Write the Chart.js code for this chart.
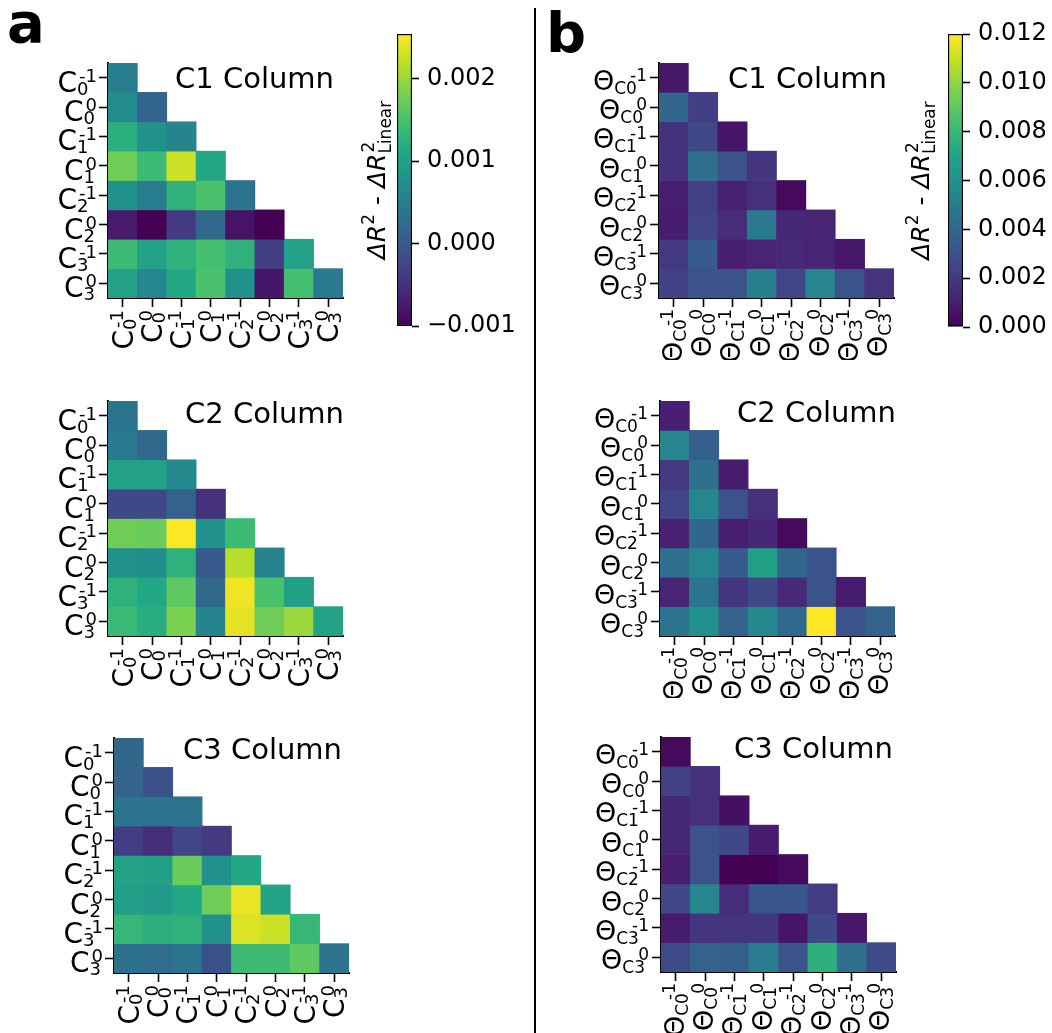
<!DOCTYPE html>
<html>
<head>
<meta charset="utf-8">
<script src="https://cdn.jsdelivr.net/npm/chart.js@4.4.1/dist/chart.umd.min.js"></script>
<style>
  body { margin: 0; background: #fff; }
  #page { position: relative; width: 1052px; height: 1033px; overflow: hidden; background: #fff; }
  canvas { position: absolute; }
  .letter { position: absolute; font: bold 56px 'DejaVu Sans'; line-height: 56px; color: #000; }
  #divider { position: absolute; left: 534px; top: 8px; width: 1.5px; height: 1030px; background: #000; }
</style>
</head>
<body>
<div id="page">
  <div class="letter" style="left:7px; top:-5px;">a</div>
  <div class="letter" style="left:546px; top:5px;">b</div>
  <div id="divider"></div>
  <canvas id="a1"></canvas><canvas id="a2"></canvas><canvas id="a3"></canvas>
  <canvas id="b1"></canvas><canvas id="b2"></canvas><canvas id="b3"></canvas>
  <canvas id="cbA"></canvas><canvas id="cbB"></canvas>
</div>
<script>
// categories: C_k^{-1}, C_k^0 for k = 0..3
const catNames = ['C0^-1', 'C0^0', 'C1^-1', 'C1^0', 'C2^-1', 'C2^0', 'C3^-1', 'C3^0'];
const subsA = ['0', '0', '1', '1', '2', '2', '3', '3'];
const subsB = ['C0', 'C0', 'C1', 'C1', 'C2', 'C2', 'C3', 'C3'];
const sups = ['-1', '0', '-1', '0', '-1', '0', '-1', '0'];

// panel a: ΔR² - ΔR²_Linear (lower triangle, row i has i+1 values)
const a1 = [
  [0.00049],
  [0.00070, 0.00013],
  [0.00123, 0.00077, 0.00059],
  [0.00176, 0.00141, 0.00226, 0.00112],
  [0.00077, 0.00049, 0.00127, 0.00151, 0.00035],
  [-0.00075, -0.00100, -0.00040, 0.00020, -0.00082, -0.00100],
  [0.00141, 0.00102, 0.00127, 0.00148, 0.00127, -0.00036, 0.00102],
  [0.00102, 0.00063, 0.00112, 0.00151, 0.00077, -0.00079, 0.00148, 0.00045]
];
const a2 = [
  [0.00035],
  [0.00045, 0.00020],
  [0.00102, 0.00102, 0.00066],
  [-0.00022, -0.00022, 0.00010, -0.00050],
  [0.00176, 0.00173, 0.00254, 0.00077, 0.00141],
  [0.00077, 0.00073, 0.00127, -0.00001, 0.00215, 0.00056],
  [0.00127, 0.00112, 0.00166, 0.00020, 0.00247, 0.00151, 0.00098],
  [0.00137, 0.00119, 0.00183, 0.00059, 0.00240, 0.00176, 0.00201, 0.00105]
];
const a3 = [
  [0.00017],
  [0.00013, -0.00012],
  [0.00035, 0.00035, 0.00035],
  [-0.00036, -0.00054, -0.00026, -0.00040],
  [0.00105, 0.00098, 0.00173, 0.00077, 0.00109],
  [0.00098, 0.00091, 0.00112, 0.00176, 0.00243, 0.00105],
  [0.00134, 0.00123, 0.00127, 0.00077, 0.00236, 0.00226, 0.00134],
  [0.00031, 0.00024, 0.00035, -0.00012, 0.00141, 0.00141, 0.00166, 0.00035]
];
// panel b
const b1 = [
  [0.0008],
  [0.0040, 0.0022],
  [0.0017, 0.0026, 0.0007],
  [0.0017, 0.0044, 0.0030, 0.0018],
  [0.0010, 0.0023, 0.0011, 0.0016, 0.0003],
  [0.0009, 0.0024, 0.0015, 0.0049, 0.0013, 0.0012],
  [0.0020, 0.0034, 0.0010, 0.0012, 0.0014, 0.0012, 0.0008],
  [0.0023, 0.0030, 0.0030, 0.0052, 0.0025, 0.0054, 0.0031, 0.0018]
];
const b2 = [
  [0.0010],
  [0.0054, 0.0036],
  [0.0020, 0.0044, 0.0009],
  [0.0025, 0.0055, 0.0030, 0.0016],
  [0.0011, 0.0040, 0.0010, 0.0013, 0.0003],
  [0.0044, 0.0055, 0.0034, 0.0068, 0.0040, 0.0031],
  [0.0012, 0.0046, 0.0018, 0.0026, 0.0014, 0.0031, 0.0009],
  [0.0046, 0.0060, 0.0038, 0.0056, 0.0041, 0.0120, 0.0030, 0.0038]
];
const b3 = [
  [0.0003],
  [0.0023, 0.0017],
  [0.0013, 0.0016, 0.0005],
  [0.0013, 0.0030, 0.0026, 0.0009],
  [0.0010, 0.0030, 0.0000, 0.0000, 0.0003],
  [0.0025, 0.0054, 0.0015, 0.0032, 0.0032, 0.0021],
  [0.0009, 0.0018, 0.0018, 0.0019, 0.0007, 0.0026, 0.0008],
  [0.0027, 0.0038, 0.0036, 0.0050, 0.0030, 0.0076, 0.0044, 0.0027]
];

const rangeA = [-0.001, 0.00254];
const rangeB = [0, 0.012];
const ticksA = [-0.001, 0, 0.001, 0.002];
const ticksB = [0, 0.002, 0.004, 0.006, 0.008, 0.010, 0.012];

const FONT = "'DejaVu Sans'";
const VIRIDIS = ['#440154', '#482475', '#414487', '#355f8d', '#2a788e', '#21918c',
                 '#22a884', '#44bf70', '#7ad151', '#bddf26', '#fde725'];

function hexRgb(h) {
  return [parseInt(h.slice(1, 3), 16), parseInt(h.slice(3, 5), 16), parseInt(h.slice(5, 7), 16)];
}
function viridis(t) {
  t = Math.max(0, Math.min(1, t));
  const p = t * 10, i = Math.min(9, Math.floor(p)), f = p - i;
  const c0 = hexRgb(VIRIDIS[i]), c1 = hexRgb(VIRIDIS[i + 1]);
  const c = c0.map((v, k) => Math.round(v + (c1[k] - v) * f));
  return 'rgb(' + c.join(',') + ')';
}

// label like C_0^{-1} drawn with right end at x=0, main baseline at y=0
function drawMath(ctx, main, sub, sup, st) {
  ctx.font = st.mainFont;
  const wM = ctx.measureText(main).width;
  ctx.font = st.scriptFont;
  const wSub = ctx.measureText(sub).width;
  const wSup = ctx.measureText(sup).width;
  const supX = wM + (st.supAfter ? ctx.measureText(sub.slice(0, st.supAfter)).width : 0) + st.supGap;
  const W = Math.max(wM + wSub, supX + wSup);
  const x0 = -W;
  ctx.fillStyle = '#000';
  ctx.textAlign = 'left';
  ctx.textBaseline = 'alphabetic';
  ctx.font = st.mainFont;
  ctx.fillText(main, x0, 0);
  ctx.font = st.scriptFont;
  ctx.fillText(sub, x0 + wM, st.subDy);
  ctx.fillText(sup, x0 + supX, -st.supDy);
}

const styleA = {
  main: 'C', subs: subsA, mainFont: '28px ' + FONT, scriptFont: '18px ' + FONT,
  subDy: 3, supDy: 10, supAfter: 0, supGap: 2,
  yGap: 11, yBase: 14, xGap: 12, xBase: 10
};
const styleB = {
  main: 'Θ', subs: subsB, mainFont: '27px ' + FONT, scriptFont: '17px ' + FONT,
  subDy: 4, supDy: 9, supAfter: 1, supGap: 4,
  yGap: 12, yBase: 12, xGap: 11, xBase: 8
};

const panels = [
  { id: 'a1', x: 108, y: 63, vals: a1, range: rangeA, st: styleA, title: 'C1 Column', tx: 334, ty: 88 },
  { id: 'a2', x: 108, y: 401, vals: a2, range: rangeA, st: styleA, title: 'C2 Column', tx: 344, ty: 423 },
  { id: 'a3', x: 114, y: 738, vals: a3, range: rangeA, st: styleA, title: 'C3 Column', tx: 342, ty: 759 },
  { id: 'b1', x: 659, y: 63, vals: b1, range: rangeB, st: styleB, title: 'C1 Column', tx: 887, ty: 88 },
  { id: 'b2', x: 660, y: 401, vals: b2, range: rangeB, st: styleB, title: 'C2 Column', tx: 896, ty: 422 },
  { id: 'b3', x: 661, y: 737, vals: b3, range: rangeB, st: styleB, title: 'C3 Column', tx: 893, ty: 758 }
];

const L = 100, T = 10, R = 14, B = 62, S = 235;

function heatmap(p) {
  const cv = document.getElementById(p.id);
  cv.width = L + S + R;
  cv.height = T + S + B;
  const ox = p.x - L, oy = p.y - T;
  cv.style.left = ox + 'px';
  cv.style.top = oy + 'px';
  const [vmin, vmax] = p.range;

  const datasets = p.vals.map((row, i) => ({
    data: catNames.map((_, j) => (j <= i ? [i, i + 1] : null)),
    backgroundColor: catNames.map((_, j) => (j <= i ? viridis((row[j] - vmin) / (vmax - vmin)) : 'rgba(0,0,0,0)')),
    grouped: false,
    barPercentage: 1,
    categoryPercentage: 1,
    borderWidth: 0
  }));

  const labelPlugin = {
    id: 'mathLabels',
    afterDraw(chart) {
      const ctx = chart.ctx, st = p.st;
      const xs = chart.scales.x, ys = chart.scales.y, area = chart.chartArea;
      for (let i = 0; i < 8; i++) {
        // y tick label
        ctx.save();
        ctx.translate(area.left - st.yGap, ys.getPixelForValue(i + 0.5) + st.yBase);
        drawMath(ctx, st.main, st.subs[i], sups[i], st);
        ctx.restore();
        // x tick label, rotated
        ctx.save();
        ctx.translate(xs.getPixelForValue(i) + st.xBase, area.bottom + st.xGap);
        ctx.rotate(-Math.PI / 2);
        drawMath(ctx, st.main, st.subs[i], sups[i], st);
        ctx.restore();
      }
      ctx.save();
      ctx.font = '29px ' + FONT;
      ctx.fillStyle = '#000';
      ctx.textAlign = 'right';
      ctx.textBaseline = 'alphabetic';
      ctx.fillText(p.title, p.tx - ox, p.ty - oy);
      ctx.restore();
    }
  };

  const axisGrid = { offset: false, drawOnChartArea: false, drawTicks: true, tickLength: 9, tickWidth: 1.6, tickColor: '#000', color: '#000' };

  new Chart(cv, {
    type: 'bar',
    data: { labels: catNames, datasets: datasets },
    options: {
      responsive: false,
      animation: false,
      devicePixelRatio: 1,
      layout: { padding: { top: T, right: R, left: 0, bottom: 0 } },
      plugins: { legend: { display: false }, tooltip: { enabled: false } },
      scales: {
        x: {
          grid: axisGrid,
          border: { display: true, color: '#000', width: 2 },
          ticks: { display: false },
          afterFit: s => { s.height = B; }
        },
        y: {
          min: 0, max: 8, reverse: true,
          afterBuildTicks: s => { s.ticks = [0, 1, 2, 3, 4, 5, 6, 7].map(v => ({ value: v + 0.5 })); },
          grid: axisGrid,
          border: { display: true, color: '#000', width: 2 },
          ticks: { display: false },
          afterFit: s => { s.width = L; }
        }
      }
    },
    plugins: [labelPlugin]
  });
}

panels.forEach(heatmap);

// colorbar label ΔR² - ΔR²_Linear, centred at x=0, baseline y=0
function drawCbLabel(ctx) {
  const big = '25px ' + FONT, ital = 'italic 25px ' + FONT, small = '17px ' + FONT;
  ctx.font = ital; const wDR = ctx.measureText('ΔR').width;
  ctx.font = small; const w2 = ctx.measureText('2').width; const wLin = ctx.measureText('Linear').width;
  ctx.font = big; const wDash = ctx.measureText(' - ').width;
  const W = wDR + w2 + 1 + wDash + wDR + Math.max(w2, wLin);
  let x = -W / 2;
  ctx.fillStyle = '#000';
  ctx.textAlign = 'left';
  ctx.textBaseline = 'alphabetic';
  ctx.font = ital; ctx.fillText('ΔR', x, 0); x += wDR;
  ctx.font = small; ctx.fillText('2', x, -11); x += w2 + 1;
  ctx.font = big; ctx.fillText(' - ', x, 0); x += wDash;
  ctx.font = ital; ctx.fillText('ΔR', x, 0); x += wDR;
  ctx.font = small; ctx.fillText('2', x + 1, -11); ctx.fillText('Linear', x, 6);
}

function colorbar(id, box, range, ticks, labelX) {
  const cv = document.getElementById(id);
  const PL = 50, PT = 40, RW = 120;
  cv.width = PL + box.w + RW;
  cv.height = box.h + 2 * PT;
  const ox = box.x - PL;
  cv.style.left = ox + 'px';
  cv.style.top = (box.y - PT) + 'px';
  const [vmin, vmax] = range;

  new Chart(cv, {
    type: 'bar',
    data: {
      labels: [''],
      datasets: [{
        data: [[vmin, vmax]],
        backgroundColor: c => {
          const a = c.chart.chartArea;
          if (!a) return '#888';
          const g = c.chart.ctx.createLinearGradient(0, a.bottom, 0, a.top);
          VIRIDIS.forEach((col, k) => g.addColorStop(k / 10, col));
          return g;
        },
        borderColor: '#000',
        borderWidth: 1.5,
        borderSkipped: false,
        barPercentage: 1,
        categoryPercentage: 1
      }]
    },
    options: {
      responsive: false,
      animation: false,
      devicePixelRatio: 1,
      layout: { padding: { left: PL, top: PT, bottom: PT, right: 0 } },
      plugins: { legend: { display: false }, tooltip: { enabled: false } },
      scales: {
        x: { display: false },
        y: {
          position: 'right',
          min: vmin, max: vmax,
          afterBuildTicks: s => { s.ticks = ticks.map(v => ({ value: v })); },
          ticks: {
            color: '#000',
            font: { family: 'DejaVu Sans', size: 24 },
            padding: 8,
            callback: v => (v < -1e-9 ? '\u2212' : '') + Math.abs(v).toFixed(3)
          },
          grid: { drawOnChartArea: false, drawTicks: true, tickLength: 7, tickWidth: 1.6, tickColor: '#000', color: '#000' },
          border: { display: false },
          afterFit: s => { s.width = RW; }
        }
      }
    },
    plugins: [{
      id: 'cbLabel',
      afterDraw(chart) {
        const ctx = chart.ctx, a = chart.chartArea;
        ctx.save();
        ctx.translate(labelX - ox, (a.top + a.bottom) / 2);
        ctx.rotate(-Math.PI / 2);
        drawCbLabel(ctx);
        ctx.restore();
      }
    }]
  });
}

colorbar('cbA', { x: 397, y: 34, w: 15, h: 292 }, rangeA, ticksA, 385);
colorbar('cbB', { x: 948, y: 34, w: 15, h: 293 }, rangeB, ticksB, 929);
</script>
</body>
</html>
